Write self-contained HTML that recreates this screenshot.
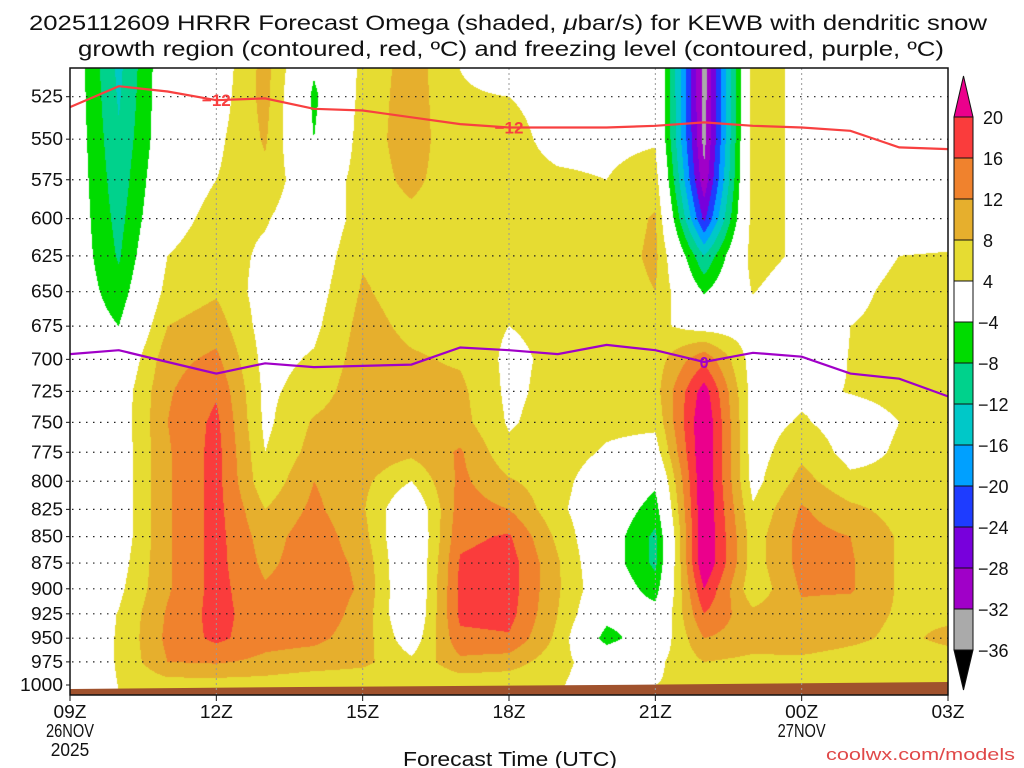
<!DOCTYPE html>
<html><head><meta charset="utf-8"><style>
html,body{margin:0;padding:0;background:#fff;width:1024px;height:768px;overflow:hidden}
#wrap{position:relative;width:1024px;height:768px}
canvas{position:absolute;left:70px;top:68px}
svg{position:absolute;left:0;top:0}
text{font-family:"Liberation Sans",sans-serif;fill:#111}
</style></head><body>
<div id="wrap">
<canvas id="cv" width="878" height="626"></canvas>
<svg id="sv" width="1024" height="768"></svg>
</div>
<script>
// ---- data ----
const levels = [510,525,550,575,600,625,650,675,700,725,750,775,800,825,850,875,900,925,950,975,1000];
const tickLevels = [525,550,575,600,625,650,675,700,725,750,775,800,825,850,875,900,925,950,975,1000];
const timeLabels = ["09Z","12Z","15Z","18Z","21Z","00Z","03Z"];
const dateLabels = [["26NOV","2025"],null,null,null,null,["27NOV"],null];
const omegaH00 = [0,0,0,0,0,0,0,0,0,0,0,0,0,0,0,0,0,0,0,0,0];
const omegaH01 = [-13,-12.5,-11.5,-10.5,-9.5,-8.5,-6.5,-4,-1,1,1,1,1,1,1,2,3,4.2,4.4,4.4,4.1];
const omegaH02 = [0,0,0,1,2,4,5.5,8,10.5,11.5,12,11.5,11.5,11.5,11.5,11.5,11.5,12.5,13,12,6];
const omegaH03 = [1,1.5,3,4,5.5,6.5,7.5,10,13,15.5,17,17.5,17.5,17.5,17.5,17.5,17.5,17.5,17,12.5,6];
const omegaH04 = [9.5,9.5,8.5,7,4.5,3,2,2,2.5,3,3,4,5,8,10,11,12.5,13.5,13.5,11,6];
const omegaH05 = [-3.5,-5,-4,0,0,1,2,3,4.5,6,8.5,9.5,12,13,14.5,14.5,14.5,14.5,13,10,5];
const omegaH06 = [5,5.5,6,6,6,7.5,8.5,9.5,10,10.5,10.5,10.5,9,8.5,9.5,11,11.5,10.5,10,9,5];
const omegaH07 = [10,10,10,9,7,6,6,7,8.5,9,9.5,9,4,-1,-2,-2,-2,-1.5,1,5,4];
const omegaH08 = [4,4.5,5,5.5,5.5,5.5,5.5,6,7.5,9,9.5,12.5,13,14,15,16.5,17,17,15,11,5];
const omegaH09 = [2,4,5,5,5,5,5,4,3,3,3.5,5,8.5,12,16.5,18,18,17.5,15.5,10,5];
const omegaH10 = [2,3,3,4.5,5,5,5,5,5,5.5,6,6,5.5,5,7,8.5,8.5,8,7,5.5,4.5];
const omegaH11 = [4,3.5,3,4,5,5.5,5.5,5.5,5.5,5,5,3.5,1,0,-1,-1,0,-2,-6,1,1];
const omegaH12 = [3.5,3.5,3.5,6,8.5,9,8,5,6,6.5,5,2,-3,-6,-9,-9,-6,-2,0,3,4];
const omegaH13 = [-34,-34,-33.5,-31,-25,-12,-4.5,2,15,22,24,24,24,24,24,24,20,16,12,8,5];
const omegaH14 = [6,6,6,6,6,6,4.2,2,2,2,2,2,2.5,4.5,6,6,5,9,10,7,4.5];
const omegaH15 = [3,3,3,3,3,3,1,0,1,3,4.5,7,9.5,12.5,13.5,13.5,12.5,11,10.5,7,4.5];
const omegaH16 = [0,0,0,0,0,2,3,4,4.2,4.2,2,2.5,5,9,12,12.5,12.5,10,9,6,4.5];
const omegaH17 = [0,0,0,0,0,4,5,5,5,5,4,4.5,5,6.5,7.5,7.5,7.5,7.5,7,5.5,4.5];
const omegaH18 = [0,0,0,0,0,4.5,5,5,5,5,5,5,5,5,5,5,5,7,9,6,4.5];
const dendriticMinus12P = [531,519,522,527,526,532,533,537,541,543,543,543,542,540,542,543,545,555,556];
const freezingLevelP = [696,693,702,711,703,706,705,704,691,693,696,689,693,702,695,698,711,715,729];
const cbLevels = [20,16,12,8,4,-4,-8,-12,-16,-20,-24,-28,-32,-36];
const cbColors = ["#fa3c3c","#f0822d","#e6af2d","#e6dc32","#ffffff","#00dc00","#00d28c","#00c8c8","#00a0ff","#1e3cff","#7800dc","#a000c8","#aaaaaa"];

const omega = [omegaH00,omegaH01,omegaH02,omegaH03,omegaH04,omegaH05,omegaH06,omegaH07,omegaH08,omegaH09,omegaH10,omegaH11,omegaH12,omegaH13,omegaH14,omegaH15,omegaH16,omegaH17,omegaH18];

// ---- axes ----
const X0=70, X1=948, Y0=68, YB=695, NH=18;
function xOf(h){return X0+(X1-X0)*h/NH;}
function yOf(p){return 685-913*Math.log(1000/p);}
function hex(c){return [parseInt(c.substr(1,2),16),parseInt(c.substr(3,2),16),parseInt(c.substr(5,2),16)];}
const rgb = cbColors.map(hex);
function colorOf(v){
  if(v>=cbLevels[0]) return [235,0,140];
  for(let i=0;i<cbColors.length;i++){ if(v>=cbLevels[i+1]) return rgb[i]; }
  return [0,0,0];
}
// ---- shading ----
const cv=document.getElementById('cv'), ctx=cv.getContext('2d');
const W=cv.width,H=cv.height, img=ctx.createImageData(W,H);
const levY=levels.map(yOf);
for(let py=0;py<H;py++){
  const y=Y0+py+0.5;
  let j=0; while(j<levY.length-2 && y>levY[j+1]) j++;
  let fy=(y-levY[j])/(levY[j+1]-levY[j]); fy=Math.max(0,Math.min(1,fy));
  for(let px=0;px<W;px++){
    const h=(px+0.5)/(X1-X0)*NH;
    let i=Math.min(NH-1,Math.floor(h)); const fx=Math.max(0,Math.min(1,h-i));
    const a=omega[i][j],b=omega[i+1][j],c=omega[i][j+1],d=omega[i+1][j+1];
    const v=(a*(1-fx)+b*fx)*(1-fy)+(c*(1-fx)+d*fx)*fy;
    const col=colorOf(v), k=(py*W+px)*4;
    img.data[k]=col[0];img.data[k+1]=col[1];img.data[k+2]=col[2];img.data[k+3]=255;
  }
}
ctx.putImageData(img,0,0);

// ---- svg overlay ----
const NS="http://www.w3.org/2000/svg", sv=document.getElementById('sv');
function mk(tag,attrs,txt){const e=document.createElementNS(NS,tag);for(const k in attrs)e.setAttribute(k,attrs[k]);if(txt!==undefined)e.textContent=txt;sv.appendChild(e);return e;}

// ground
let g=mk('polygon',{points:`${X0},689 300,687 600,685 948,682 948,${YB} ${X0},${YB}`,fill:'#a0522d'});



// horizontal grid
tickLevels.forEach(p=>{
  const y=yOf(p);
  if(p<1000){
    const l=mk('line',{x1:X0+2,x2:X1,y1:y,y2:y,stroke:'#222','stroke-width':1.2,'stroke-dasharray':'1.5 5.5'});
    
    
  }
  const t=mk('text',{x:63,y:y+6,'text-anchor':'end','font-size':18,textLength:p>=1000?43:32,lengthAdjust:'spacingAndGlyphs'},String(p));
  
  
  const tk=mk('line',{x1:X0-4,x2:X0,y1:y,y2:y,stroke:'#111'});
  
  
});
// vertical grid + x labels
timeLabels.forEach((lab,k)=>{
  const x=xOf(k*3);
  if(k>0&&k<6){
    const l=mk('line',{x1:x,x2:x,y1:Y0,y2:YB,stroke:'#999','stroke-width':1,'stroke-dasharray':'2 3'});
    
    
  }
  const tk=mk('line',{x1:x,x2:x,y1:YB,y2:YB+6,stroke:'#111'});
  
  
  const t=mk('text',{x:x,y:718,'text-anchor':'middle','font-size':18,textLength:33,lengthAdjust:'spacingAndGlyphs'},lab);
  
  
  if(dateLabels[k]){
    dateLabels[k].forEach((s,m)=>{
      const d=mk('text',{x:x,y:737+m*19,'text-anchor':'middle','font-size':18,textLength:s.length*9.6,lengthAdjust:'spacingAndGlyphs'},s);
      
      
    });
  }
});
// contour lines
function line(arr,color,name){
  const pts=arr.map((p,h)=>xOf(h).toFixed(1)+','+yOf(p).toFixed(1)).join(' ');
  const e=mk('polyline',{points:pts,fill:'none',stroke:color,'stroke-width':2.2});
  
  
}
line(dendriticMinus12P,'#f84040','dendritic-minus12-contour');
line(freezingLevelP,'#a000c8','freezing-level-contour');
[3,9].forEach(h=>{
  const x=xOf(h), y=yOf(dendriticMinus12P[h]);
  const t=mk('text',{x:x,y:y+6,'text-anchor':'middle','font-size':17,'font-weight':'bold',style:'fill:#f84040'},'−12');
  
  
});
{
  const t=mk('text',{x:xOf(13),y:yOf(freezingLevelP[13])+6,'text-anchor':'middle','font-size':16,'font-weight':'bold',style:'fill:#a000c8'},'0');
  
  
}
// frame
let fr=mk('rect',{x:X0,y:Y0,width:X1-X0,height:YB-Y0,fill:'none',stroke:'#111','stroke-width':1.5});



// colorbar
const CBX=954, CBW=19, CBT=117, CBS=41;
let tri=mk('polygon',{points:`${CBX},${CBT} ${CBX+CBW},${CBT} ${CBX+CBW/2},76`,fill:'#eb008c',stroke:'#111'});


cbColors.forEach((c,i)=>{
  const r=mk('rect',{x:CBX,y:CBT+i*CBS,width:CBW,height:CBS,fill:c,stroke:'#111'});
  
  
});
const cbBottom=CBT+cbColors.length*CBS;
let tri2=mk('polygon',{points:`${CBX},${cbBottom} ${CBX+CBW},${cbBottom} ${CBX+CBW/2},690`,fill:'#000',stroke:'#111'});


cbLevels.forEach((v,i)=>{
  const s=v<0?'−'+Math.abs(v):String(v);
  const t=mk('text',{x:v<0?978:983,y:CBT+i*CBS+7,'font-size':18},s);
  
  
});
</script>
<svg width="1024" height="768" style="position:absolute;left:0;top:0;pointer-events:none">
<text x="508" y="30" text-anchor="middle" font-size="21" textLength="958" lengthAdjust="spacingAndGlyphs">2025112609 HRRR Forecast Omega (shaded, <tspan font-style="italic">μ</tspan>bar/s) for KEWB with dendritic snow</text>
<text x="511" y="56" text-anchor="middle" font-size="21" textLength="866" lengthAdjust="spacingAndGlyphs">growth region (contoured, red, ºC) and freezing level (contoured, purple, ºC)</text>
<text x="510" y="766" text-anchor="middle" font-size="20" textLength="214" lengthAdjust="spacingAndGlyphs">Forecast Time (UTC)</text>
<text x="826" y="760" font-size="17" textLength="189" lengthAdjust="spacingAndGlyphs" style="fill:#e04848">coolwx.com/models</text>
</svg>
</body></html>
